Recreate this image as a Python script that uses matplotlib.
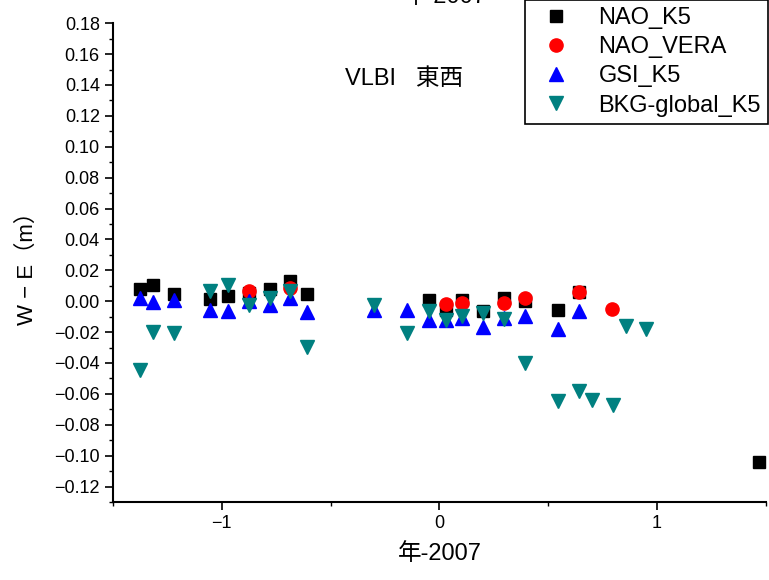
import matplotlib
matplotlib.use("Agg")
import matplotlib.pyplot as plt
from matplotlib.lines import Line2D
from matplotlib.ticker import MultipleLocator

plt.rcParams["font.family"] = ["Liberation Sans", "Noto Sans CJK JP", "DejaVu Sans"]

# NAO_K5 (black squares)
nao_k5_x = [-1.376, -1.318, -1.219, -1.053, -0.971, -0.876, -0.781, -0.688, -0.607,
            -0.049, 0.028, 0.105, 0.202, 0.297, 0.391, 0.544, 0.640, 1.467]
nao_k5_y = [0.008, 0.0106, 0.0046, 0.0015, 0.0035, 0.005, 0.0078, 0.0128, 0.0046,
            0.0005, -0.0056, 0.0009, -0.0062, 0.002, 0.0, -0.0056, 0.0062, -0.1044]

# NAO_VERA (red circles)
nao_vera_x = [-0.876, -0.688, 0.028, 0.105, 0.297, 0.391, 0.640, 0.794]
nao_vera_y = [0.0063, 0.0087, -0.0019, -0.0012, -0.0012, 0.0024, 0.0059, -0.0051]

# GSI_K5 (blue triangles)
gsi_x = [-1.376, -1.318, -1.219, -1.053, -0.971, -0.876, -0.781, -0.688, -0.607,
         -0.299, -0.148, -0.049, 0.028, 0.105, 0.202, 0.297, 0.391, 0.544, 0.640]
gsi_y = [0.002, -0.0002, 0.0009, -0.0056, -0.0066, 0.0, -0.0023, 0.002, -0.007,
         -0.0056, -0.0056, -0.012, -0.012, -0.011, -0.0164, -0.011, -0.0099, -0.018, -0.0066]
gsi_err = [0.003] * len(gsi_x)

# BKG-global_K5 (teal down triangles)
bkg_x = [-1.376, -1.318, -1.219, -1.053, -0.971, -0.876, -0.781, -0.688, -0.607,
         -0.299, -0.148, -0.049, 0.028, 0.105, 0.202, 0.297, 0.391, 0.545, 0.640,
         0.702, 0.798, 0.856, 0.948]
bkg_y = [-0.0448, -0.0202, -0.0206, 0.0069, 0.0106, -0.0023, 0.0024, 0.0063, -0.0297,
         -0.0023, -0.0206, -0.0066, -0.012, -0.0099, -0.0077, -0.0114, -0.040, -0.0649, -0.0584,
         -0.0638, -0.067, -0.0159, -0.018]

teal = "#008080"

fig = plt.figure(figsize=(7.69, 5.80), dpi=100)
ax = fig.add_axes([0.147, 0.1345, 0.849, 0.8255])

ax.plot(nao_k5_x, nao_k5_y, "s", color="black", ms=8.5, zorder=3)
ax.plot(nao_vera_x, nao_vera_y, "o", color="red", ms=9.5, zorder=4)
ax.errorbar(gsi_x, gsi_y, yerr=gsi_err, fmt="^", color="blue", ms=10, elinewidth=1,
            capsize=0, zorder=5)
ax.plot(bkg_x, bkg_y, "v", color=teal, ms=10.5, zorder=6)

ax.set_xlim(-1.5, 1.5)
ax.set_ylim(-0.13, 0.18)
ax.xaxis.set_major_locator(MultipleLocator(1))
ax.xaxis.set_minor_locator(MultipleLocator(0.5))
ax.yaxis.set_major_locator(MultipleLocator(0.02))
ax.yaxis.set_minor_locator(MultipleLocator(0.01))
ax.yaxis.set_major_formatter(plt.FuncFormatter(lambda v, p: f"{v:.2f}".replace("-", "\u2212")))
ax.xaxis.set_major_formatter(plt.FuncFormatter(lambda v, p: f"{v:.0f}".replace("-", "\u2212")))

for side in ("top", "right"):
    ax.spines[side].set_visible(False)
for side in ("left", "bottom"):
    ax.spines[side].set_linewidth(1.5)
ax.tick_params(which="major", direction="out", length=6, width=1.2, labelsize=13)
ax.tick_params(which="minor", direction="out", length=3, width=1)

ax.set_xlabel("年-2007", fontsize=17, labelpad=8)
ax.set_ylabel("W \u2212 E（m）", fontsize=16, labelpad=12)
ax.text(0.445, 0.87, "VLBI   東西", transform=ax.transAxes, fontsize=17, ha="center")

# clipped duplicate label at the very top
fig.text(0.578, 0.995, "年-2007", fontsize=17, ha="center", va="baseline")

handles = [
    Line2D([], [], ls="none", marker="s", color="black", ms=8.5),
    Line2D([], [], ls="none", marker="o", color="red", ms=9.5),
    Line2D([], [], ls="none", marker="^", color="blue", ms=10),
    Line2D([], [], ls="none", marker="v", color=teal, ms=10.5),
]
labels = ["NAO_K5", "NAO_VERA", "GSI_K5", "BKG-global_K5"]
leg = fig.legend(handles, labels, loc="upper right", bbox_to_anchor=(1.014, 1.02),
                 fontsize=17, frameon=True, fancybox=False, edgecolor="black",
                 framealpha=1, borderpad=0.3, labelspacing=0.3, handletextpad=0.8,
                 handlelength=2.0)
leg.get_frame().set_linewidth(1.2)

fig.savefig("out.png", dpi=100)
